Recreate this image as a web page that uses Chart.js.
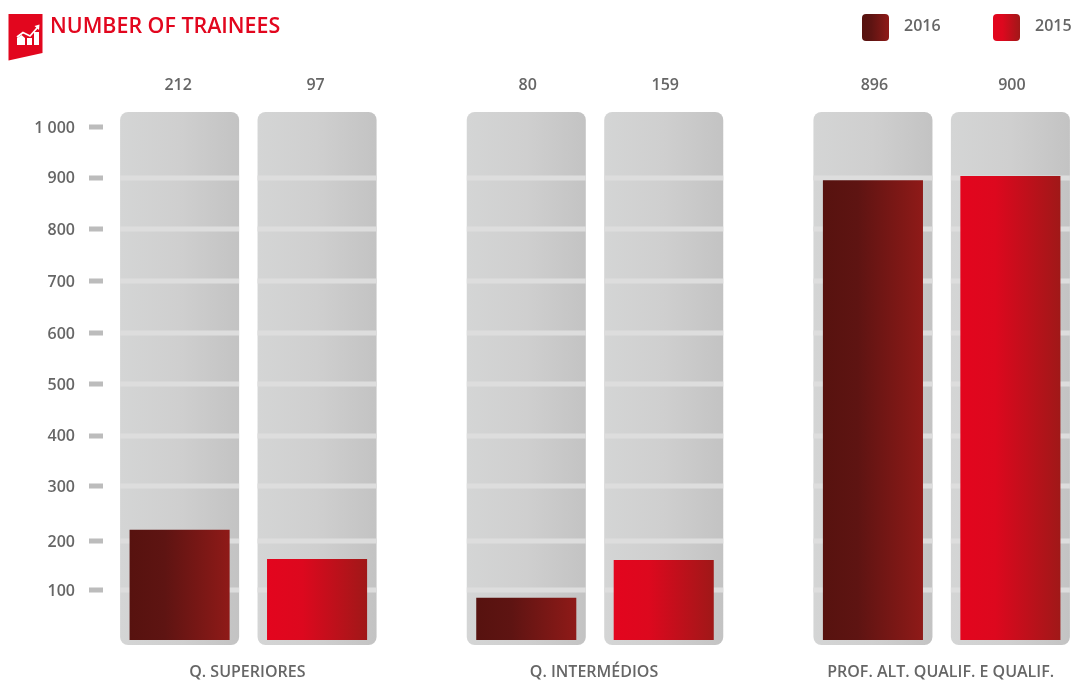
<!DOCTYPE html>
<html>
<head>
<meta charset="utf-8">
<title>Number of trainees</title>
<script src="https://cdn.jsdelivr.net/npm/chart.js@4"></script>
<style>
    html, body { margin: 0; padding: 0; background: #fff; overflow: hidden; width: 1078px; height: 684px; }
    body { position: relative; font-family: "Open Sans", sans-serif; }
    #chart { position: absolute; left: 0; top: 0; }
    #icon { position: absolute; left: 8px; top: 13px; }
    #title { position: absolute; left: 50px; top: 10px; font-size: 21.4px; font-weight: 600; color: #e2061e; line-height: 30px; white-space: nowrap; }
    .legend-box { position: absolute; top: 14px; width: 27px; height: 27px; border-radius: 4px; }
    .legend-text { position: absolute; top: 14px; font-size: 16px; font-weight: 600; color: #666; line-height: 22px; }
</style>
</head>
<body>
<canvas id="chart" width="1115" height="684"></canvas>
<svg id="icon" width="36" height="49" viewBox="0 0 36 49">
    <polygon points="0.5,1 34.5,1 34.5,40 0.5,47.5" fill="#e2061e"/>
    <path d="M9 32 V25 L13.5 22 L17 25 V32 Z M19 32 V25 H24 V32 Z M26 32 V19 H31 V32 Z" fill="#fff"/>
    <path d="M9 24 L15 19.5 L22 23 L29.5 14.5" fill="none" stroke="#fff" stroke-width="1.8"/>
    <polygon points="26.5,13 31.5,11.5 31,17" fill="#fff"/>
</svg>
<div id="title">NUMBER OF TRAINEES</div>
<div class="legend-box" id="box2016" style="left:862px"></div>
<div class="legend-text" id="text2016" style="left:904px"></div>
<div class="legend-box" id="box2015" style="left:993px"></div>
<div class="legend-text" id="text2015" style="left:1035px"></div>

<script>
// Data
const categories = ['Q. SUPERIORES', 'Q. INTERMÉDIOS', 'PROF. ALT. QUALIF. E QUALIF.'];
const seriesNames = ['2016', '2015'];
// printed numbers above the bars
const printed2016 = [212, 80, 896];
const printed2015 = [97, 159, 900];
// bar heights as they are drawn in the picture (they differ from the printed numbers)
const heights2016 = [215, 82, 897];
const heights2015 = [158, 156, 905];
// tick marks are not quite evenly spaced in the picture
const tickValues = [1000, 902, 801, 700, 598, 499, 398, 300, 192, 97];
const tickLabels = ['1 000', '900', '800', '700', '600', '500', '400', '300', '200', '100'];
const trackRange = [-10, 1030];

// Colours
const trackColors = ['#d4d5d5', '#cfcfcf', '#c3c3c3'];
const darkColors = ['#57120f', '#5e1412', '#8f1a18'];
const redColors = ['#e3051e', '#dd081e', '#a01818'];

const categoryPercentage = 0.793;
const trackBarPercentage = 0.866;
const valueBarPercentage = 0.728;

// Left to right gradient fitted to one bar
function barGradient(ctx, stackIndex, barPercentage, colors, midStop) {
    const chart = ctx.chart;
    const xScale = chart.scales.x;
    if (!xScale || ctx.dataIndex === undefined) return colors[0];
    const pitch = xScale.getPixelForValue(1) - xScale.getPixelForValue(0);
    const slot = pitch * categoryPercentage / 2;
    const center = xScale.getPixelForValue(ctx.dataIndex) + (stackIndex === 0 ? -slot / 2 : slot / 2);
    const half = slot * barPercentage / 2;
    // scales have no size yet on the first pass
    if (!isFinite(center) || !isFinite(half)) return colors[0];
    const g = chart.ctx.createLinearGradient(center - half, 0, center + half, 0);
    g.addColorStop(0, colors[0]);
    g.addColorStop(midStop, colors[1]);
    g.addColorStop(1, colors[2]);
    return g;
}

function trackDataset(stack, stackIndex) {
    return {
        label: 'track',
        stack: stack,
        order: 2,
        clip: false,
        data: categories.map(() => trackRange),
        barPercentage: trackBarPercentage,
        categoryPercentage: categoryPercentage,
        borderRadius: 8,
        borderSkipped: false,
        backgroundColor: ctx => barGradient(ctx, stackIndex, trackBarPercentage, trackColors, 0.5)
    };
}

function valueDataset(name, stack, stackIndex, values, colors) {
    return {
        label: name,
        stack: stack,
        order: 1,
        clip: false,
        data: values,
        barPercentage: valueBarPercentage,
        categoryPercentage: categoryPercentage,
        backgroundColor: ctx => barGradient(ctx, stackIndex, valueBarPercentage, colors, 0.35)
    };
}

// Light bands across the tracks and the small dashes by the tick labels
const bandsPlugin = {
    id: 'bands',
    beforeDatasetsDraw(chart) {
        const c = chart.ctx;
        const y = chart.scales.y;
        c.save();
        c.fillStyle = '#bcbcbc';
        tickValues.forEach(v => c.fillRect(89, Math.round(y.getPixelForValue(v)) - 2.5, 14, 5));
        c.restore();
    },
    afterDatasetDraw(chart, args) {
        if (args.index > 1) return;
        const c = chart.ctx;
        const y = chart.scales.y;
        c.save();
        c.fillStyle = '#dddddd';
        args.meta.data.forEach(bar => {
            tickValues.slice(1).forEach(v => {
                c.fillRect(bar.x - bar.width / 2, Math.round(y.getPixelForValue(v)) - 2.5, bar.width, 5);
            });
        });
        c.restore();
    }
};

// Printed numbers above each track
const printedPlugin = {
    id: 'printed',
    afterDraw(chart) {
        const c = chart.ctx;
        c.save();
        c.font = '600 16px "Open Sans"';
        c.fillStyle = '#666';
        c.textAlign = 'center';
        c.textBaseline = 'middle';
        [printed2016, printed2015].forEach((values, i) => {
            chart.getDatasetMeta(i).data.forEach((bar, j) => {
                // these labels sit a little right of the bar centre from the second group on
                c.fillText(String(values[j]), bar.x + (j === 0 ? -1.5 : 1.5), 85);
            });
        });
        c.restore();
    }
};

new Chart(document.getElementById('chart').getContext('2d'), {
    type: 'bar',
    data: {
        labels: categories,
        datasets: [
            trackDataset('a', 0),
            trackDataset('b', 1),
            valueDataset(seriesNames[0], 'a', 0, heights2016, darkColors),
            valueDataset(seriesNames[1], 'b', 1, heights2015, redColors)
        ]
    },
    options: {
        responsive: false,
        animation: false,
        devicePixelRatio: 1,
        layout: { padding: { top: 112, bottom: 0, left: 0, right: 0 } },
        plugins: { legend: { display: false }, title: { display: false }, tooltip: { enabled: false } },
        scales: {
            x: {
                grid: { display: false, drawTicks: false },
                border: { display: false },
                afterFit: scale => { scale.height = 39; },
                ticks: {
                    padding: 18,
                    labelOffset: -1,
                    maxRotation: 0,
                    color: '#666',
                    font: { family: '"Open Sans"', size: 16, weight: '600' }
                }
            },
            y: {
                min: trackRange[0],
                max: trackRange[1],
                stacked: false,
                grid: { display: false, drawTicks: false },
                border: { display: false },
                afterFit: scale => { scale.width = 75; },
                afterBuildTicks: scale => { scale.ticks = tickValues.map(v => ({ value: v })); },
                ticks: {
                    padding: 0,
                    labelOffset: 1,
                    autoSkip: false,
                    color: '#666',
                    font: { family: '"Open Sans"', size: 16, weight: '600' },
                    callback: (value, i) => tickLabels[i]
                }
            }
        }
    },
    plugins: [bandsPlugin, printedPlugin]
});

// Legend
function cssGradient(colors) {
    return `linear-gradient(to right, ${colors[0]}, ${colors[1]} 35%, ${colors[2]})`;
}
document.getElementById('box2016').style.background = cssGradient(darkColors);
document.getElementById('box2015').style.background = cssGradient(redColors);
document.getElementById('text2016').textContent = seriesNames[0];
document.getElementById('text2015').textContent = seriesNames[1];
</script>
</body>
</html>
